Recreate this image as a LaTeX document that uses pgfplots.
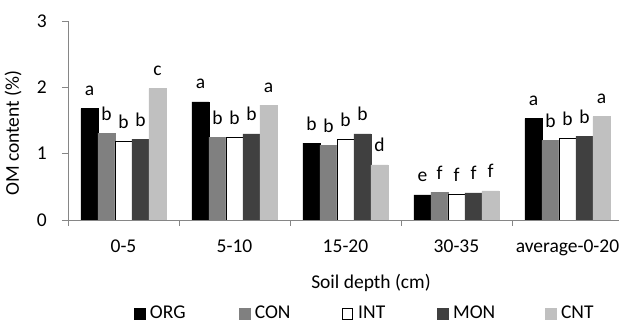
\documentclass[border=0pt]{standalone}
\usepackage{fontspec}
\setmainfont{Carlito}
\usepackage{pgfplots}
\usepackage{pgfplotstable}
\pgfplotsset{compat=1.18}
\definecolor{axgray}{HTML}{868686}
\definecolor{con}{HTML}{808080}
\definecolor{mon}{HTML}{404040}
\definecolor{cnt}{HTML}{C0C0C0}
\pgfplotstableread{
x y lab
0 1.68 a
1 1.78 a
2 1.16 b
3 0.38 e
4 1.53 a
}\org
\pgfplotstableread{
x y lab
0 1.31 b
1 1.25 b
2 1.13 b
3 0.42 f
4 1.20 b
}\con
\pgfplotstableread{
x y lab
0 1.18 b
1 1.25 b
2 1.21 b
3 0.39 f
4 1.23 b
}\int
\pgfplotstableread{
x y lab
0 1.22 b
1 1.30 b
2 1.30 b
3 0.41 f
4 1.26 b
}\mon
\pgfplotstableread{
x y lab
0 1.98 c
1 1.73 a
2 0.83 d
3 0.44 f
4 1.56 a
}\cnt
\begin{document}
\fontsize{19.5}{23}\selectfont
\begin{tikzpicture}
\begin{axis}[
  at={(0pt,0pt)}, anchor=south west,
  scale only axis, width=555pt, height=199pt,
  font=\fontsize{19.5}{23}\selectfont,
  /pgf/number format/assume math mode=true,
  xmin=-0.5, xmax=4.5, ymin=0, ymax=3,
  axis x line*=bottom, axis y line*=left,
  axis line style={axgray, line width=0.9pt},
  tick style={axgray, line width=0.9pt},
  tick align=outside,
  ytick={0,1,2,3},
  major tick length=6pt, minor tick length=6pt,
  xtick={0,...,4}, xticklabels={0-5,5-10,15-20,30-35,average-0-20},
  major x tick style={draw=none},
  minor xtick={-0.5,0.5,1.5,2.5,3.5,4.5},
  xticklabel style={anchor=north, inner sep=0pt, yshift=-14pt},
  yticklabel style={anchor=east, inner sep=0pt, xshift=-15pt},
  ybar=0pt, bar width=17pt,
  ylabel={OM content (\%)},
  ylabel style={at={(axis description cs:-0.099,0.436)}, anchor=center},
  xlabel={Soil depth (cm)},
  xlabel style={at={(axis description cs:0.546,-0.317)}, anchor=center},
  nodes near coords, point meta=explicit symbolic,
  every node near coord/.append style={anchor=base, yshift=13pt, inner sep=0pt, text=black},
  legend columns=5,
  legend style={at={(axis description cs:0.119,-0.512)}, anchor=south west, draw=none, fill=none,
    inner sep=0pt, outer sep=0pt, nodes={inner sep=0pt}, column sep=0pt},
  legend image code/.code={\draw[#1] (0pt,-5.4pt) rectangle (10.6pt,5.4pt); \path (15.5pt,0pt);},
]
\addplot[fill=black, draw=black] table[x=x, y=y, meta=lab] {\org};
\addplot[fill=con, draw=con] table[x=x, y=y, meta=lab] {\con};
\addplot[fill=white, draw=black, line width=0.9pt] table[x=x, y=y, meta=lab] {\int};
\addplot[fill=mon, draw=mon] table[x=x, y=y, meta=lab] {\mon};
\addplot[fill=cnt, draw=cnt] table[x=x, y=y, meta=lab] {\cnt};
\legend{\makebox[89pt][l]{ORG},\makebox[87pt][l]{CON},\makebox[79pt][l]{INT},\makebox[92pt][l]{MON},CNT}
\end{axis}
\pgfresetboundingbox
\path (-68pt,-106pt) rectangle (551pt,220pt);
\end{tikzpicture}
\end{document}
